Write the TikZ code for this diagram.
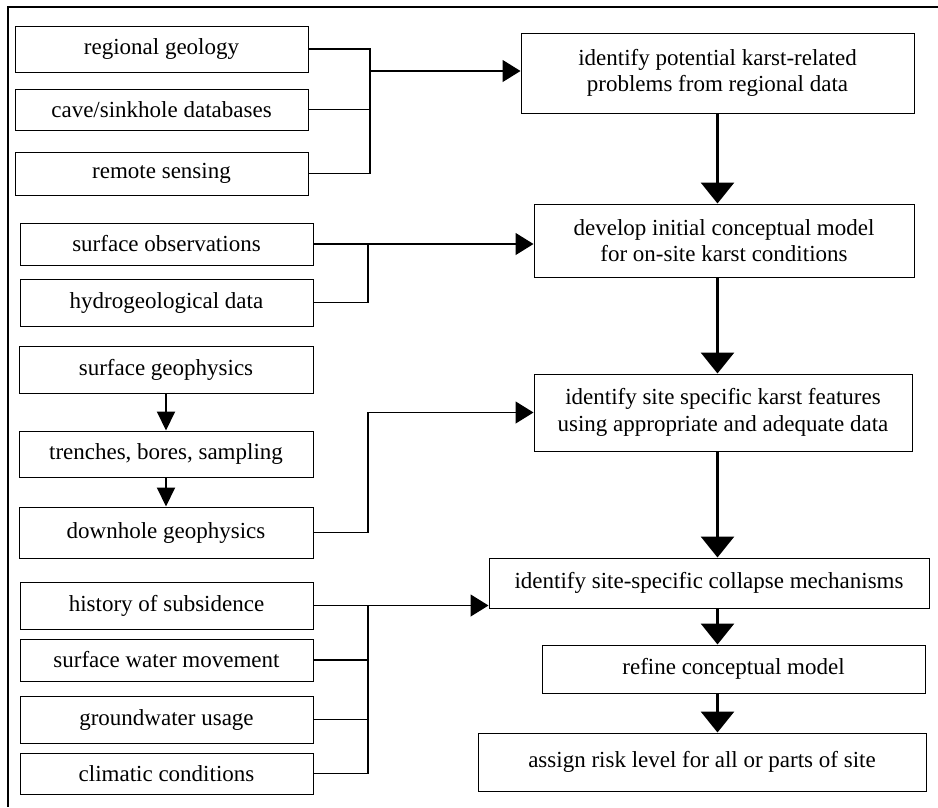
\documentclass[tikz,border=0pt]{standalone}
\usepackage{fontspec}
\setmainfont{Liberation Serif}
\usetikzlibrary{arrows.meta,calc}
\tikzset{
  srcbox/.style={
    draw, line width=1pt, inner sep=0pt,
    minimum width=293pt, align=center,
    font=\fontsize{23}{26.5}\selectfont
  },
  stepbox/.style={
    draw, line width=1pt, inner sep=0pt,
    align=center, font=\fontsize{23}{26.5}\selectfont
  },
  link/.style={line width=1.3pt},
  harrow/.style={line width=1.3pt, -{Triangle[length=18pt,width=22pt]}},
  varrow/.style={line width=3pt, -{Triangle[length=21pt,width=33pt]}},
  sarrow/.style={line width=2pt, -{Triangle[length=19pt,width=18pt]}}
}

\begin{document}
\begin{tikzpicture}[x=1pt, y=-1pt]
  \useasboundingbox (0,0) rectangle (938,807);
  \draw[line width=1.3pt] (938,7) -- (8,7) -- (8,807);

  % data sources
  \node[srcbox, minimum height=46pt] (L1) at (161.5,49) {regional geology};
  \node[srcbox, minimum height=41pt] (L2) at (161.5,109.5) {cave/sinkhole databases};
  \node[srcbox, minimum height=43pt] (L3) at (161.5,173.5) {remote sensing};
  \node[srcbox, minimum height=42pt] (L4) at (166.5,244) {surface observations};
  \node[srcbox, minimum height=47pt] (L5) at (166.5,302.5) {hydrogeological data};
  \node[srcbox, minimum width=294pt, minimum height=47pt] (L6) at (166,369.5) {surface geophysics};
  \node[srcbox, minimum width=294pt, minimum height=46pt] (L7) at (166,454) {trenches, bores, sampling};
  \node[srcbox, minimum width=294pt, minimum height=51pt] (L8) at (166,532.5) {downhole geophysics};
  \node[srcbox, minimum height=47pt] (L9) at (166.5,605.5) {history of subsidence};
  \node[srcbox, minimum height=42pt] (L10) at (166.5,660) {surface water movement};
  \node[srcbox, minimum height=47pt] (L11) at (166.5,719.5) {groundwater usage};
  \node[srcbox, minimum height=41pt] (L12) at (166.5,773.5) {climatic conditions};

  % main steps
  \node[stepbox, minimum width=393pt, minimum height=80pt] (R1) at (717.5,73)
       {identify potential karst-related\\problems from regional data};
  \node[stepbox, minimum width=380pt, minimum height=73pt] (R2) at (724,240.5)
       {develop initial conceptual model\\for on-site karst conditions};
  \node[stepbox, minimum width=378pt, minimum height=77pt] (R3) at (723,412.5)
       {identify site specific karst features\\using appropriate and adequate data};
  \node[stepbox, minimum width=440pt, minimum height=50pt] (R4) at (709,583)
       {identify site-specific collapse mechanisms};
  \node[stepbox, minimum width=383pt, minimum height=48pt] (R5) at (733.5,669)
       {refine conceptual model};
  \node[stepbox, minimum width=448pt, minimum height=58pt] (R6) at (702,762)
       {assign risk level for all or parts of site};

  \coordinate (j1) at (370,0);
  \coordinate (j2) at (368,0);

  % regional data
  \draw[link] (L1.east) -| (j1 |- L3.east) -- (L3.east);
  \draw[link] (L2.east) -- (L2.east -| j1);
  \draw[harrow] (j1 |- 0,71) -- (R1.west |- 0,71);

  % on-site observations
  \draw[harrow] (L4.east) -- (L4.east -| R2.west);
  \draw[link] (L5.east) -| (j2 |- L4.east);

  % investigation
  \draw[sarrow] (L6.south) -- (L7.north);
  \draw[sarrow] (L7.south) -- (L8.north);
  \draw[harrow] (L8.east) -| (j2 |- R3.west) -- (R3.west);

  % collapse factors
  \draw[harrow] (L9.east) -- (L9.east -| R4.west);
  \draw[link] (L12.east) -| (j2 |- L9.east);
  \draw[link] (L10.east) -- (L10.east -| j2);
  \draw[link] (L11.east) -- (L11.east -| j2);

  % main flow
  \draw[varrow] (R1.south) -- (R1.south |- R2.north);
  \draw[varrow] (R2.south -| R1.south) -- (R1.south |- R3.north);
  \draw[varrow] (R3.south -| R1.south) -- (R1.south |- R4.north);
  \draw[varrow] (R4.south -| R1.south) -- (R1.south |- R5.north);
  \draw[varrow] (R5.south -| R1.south) -- (R1.south |- R6.north);
\end{tikzpicture}
\end{document}
